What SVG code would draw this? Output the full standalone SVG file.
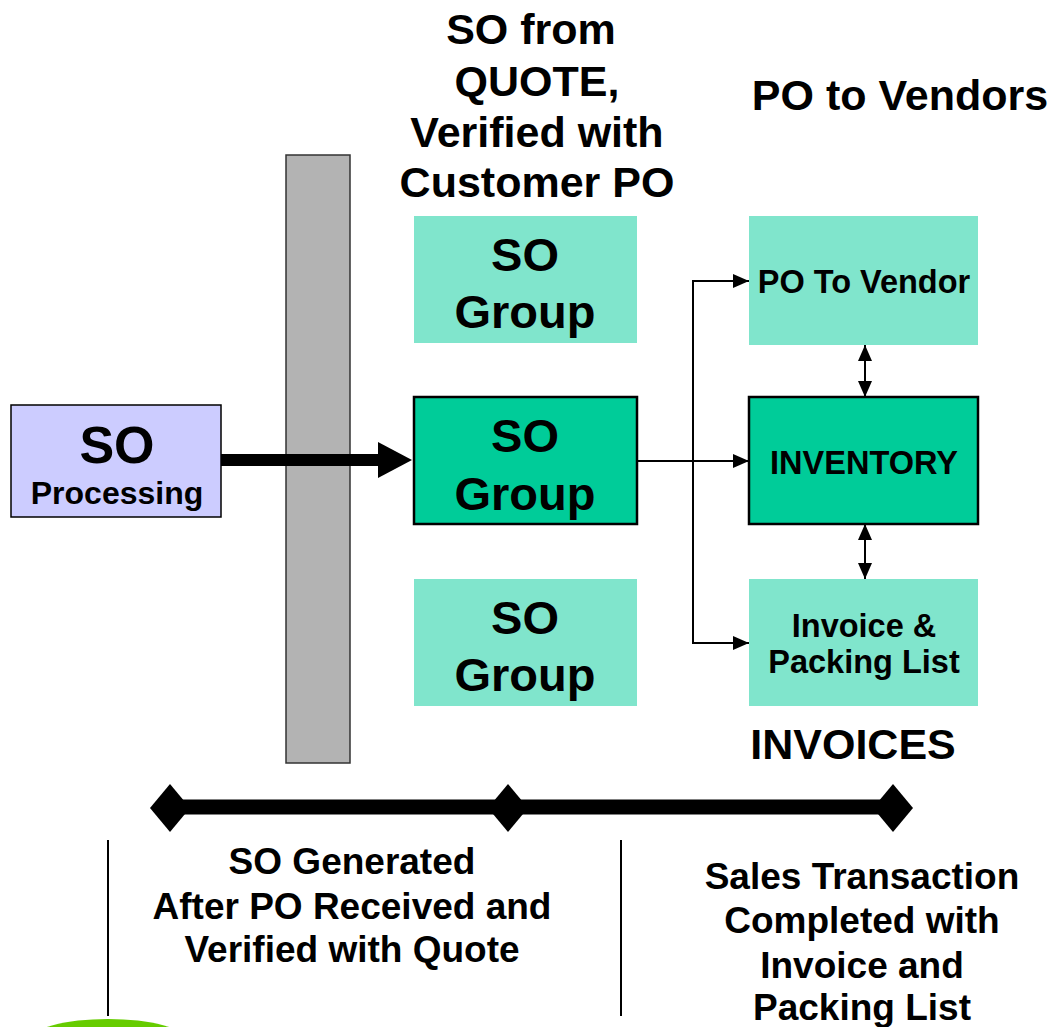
<svg xmlns="http://www.w3.org/2000/svg" width="1053" height="1027" viewBox="0 0 1053 1027">
<style>
text{font-family:"Liberation Sans",Arial,sans-serif;font-weight:bold;fill:#000;text-anchor:middle}
.light{fill:#80e5cc}
.dark{fill:#00cc99;stroke:#000;stroke-width:2.5}
.big{font-size:47px}
.mid{font-size:32.5px}
.head{font-size:43px}
.cap{font-size:37px}
.thin{stroke:#000;stroke-width:2;fill:none}
</style>
<defs>
<marker id="ah2" markerWidth="16" markerHeight="14" refX="16" refY="7" orient="auto-start-reverse" markerUnits="userSpaceOnUse"><path d="M0,0 L16,7 L0,14 Z" fill="#000"/></marker>
</defs>
<rect width="1053" height="1027" fill="#fff"/>

<g id="titles">
<text class="head" x="531" y="44">SO from</text>
<text class="head" x="537" y="96">QUOTE,</text>
<text class="head" x="537" y="147">Verified with</text>
<text class="head" x="537" y="197">Customer PO</text>
<text class="head" x="900" y="110">PO to Vendors</text>
<text class="head" x="853" y="759">INVOICES</text>
</g>

<g id="gate">
<rect x="286" y="155" width="64" height="608" fill="#b3b3b3" stroke="#333" stroke-width="1.5"/>
</g>

<g id="so-processing">
<rect x="11" y="405" width="210" height="112" fill="#ccccff" stroke="#000" stroke-width="1.5"/>
<text x="117" y="463" font-size="52">SO</text>
<text x="117" y="504" font-size="32">Processing</text>
</g>

<g id="so-group-top">
<rect class="light" x="414" y="216" width="223" height="127"/>
<text class="big" x="525" y="271">SO</text>
<text class="big" x="525" y="328">Group</text>
</g>

<g id="so-group-mid">
<rect class="dark" x="414" y="397" width="223" height="127"/>
<text class="big" x="525" y="452">SO</text>
<text class="big" x="525" y="510">Group</text>
</g>

<g id="so-group-bottom">
<rect class="light" x="414" y="579" width="223" height="127"/>
<text class="big" x="525" y="634">SO</text>
<text class="big" x="525" y="691">Group</text>
</g>

<g id="po-to-vendor">
<rect class="light" x="749" y="216" width="229" height="129"/>
<text class="mid" x="864" y="293">PO To Vendor</text>
</g>

<g id="inventory">
<rect class="dark" x="749" y="397" width="229" height="127"/>
<text class="mid" x="864" y="474">INVENTORY</text>
</g>

<g id="invoice">
<rect class="light" x="749" y="579" width="229" height="127"/>
<text class="mid" x="864" y="637">Invoice &amp;</text>
<text class="mid" x="864" y="673">Packing List</text>
</g>

<g id="connectors">
<path d="M221,460 H380" stroke="#000" stroke-width="12"/>
<path d="M378,442 L412,460 L378,478 Z" fill="#000"/>
<line class="thin" x1="637" y1="461" x2="749" y2="461" marker-end="url(#ah2)"/>
<path class="thin" d="M749,281 H693 V643 H749" marker-start="url(#ah2)" marker-end="url(#ah2)"/>
<line class="thin" x1="865" y1="345" x2="865" y2="397" marker-start="url(#ah2)" marker-end="url(#ah2)"/>
<line class="thin" x1="865" y1="524" x2="865" y2="579" marker-start="url(#ah2)" marker-end="url(#ah2)"/>
</g>

<g id="timeline">
<line x1="165" y1="807" x2="900" y2="807" stroke="#000" stroke-width="15"/>
<path d="M170,784 L190,808 L170,832 L150,808 Z" fill="#000"/>
<path d="M508,784 L528,808 L508,832 L488,808 Z" fill="#000"/>
<path d="M893,784 L913,808 L893,832 L873,808 Z" fill="#000"/>
<line x1="108" y1="840" x2="108" y2="1016" stroke="#000" stroke-width="2"/>
<line x1="621" y1="840" x2="621" y2="1016" stroke="#000" stroke-width="2"/>
<ellipse cx="108" cy="1040" rx="78" ry="21" fill="#66cc00"/>
</g>

<g id="captions">
<text class="cap" x="352" y="874">SO Generated</text>
<text class="cap" x="352" y="919">After PO Received and</text>
<text class="cap" x="352" y="962">Verified with Quote</text>
<text class="cap" x="862" y="889">Sales Transaction</text>
<text class="cap" x="862" y="933">Completed with</text>
<text class="cap" x="862" y="978">Invoice and</text>
<text class="cap" x="862" y="1020">Packing List</text>
</g>
</svg>
